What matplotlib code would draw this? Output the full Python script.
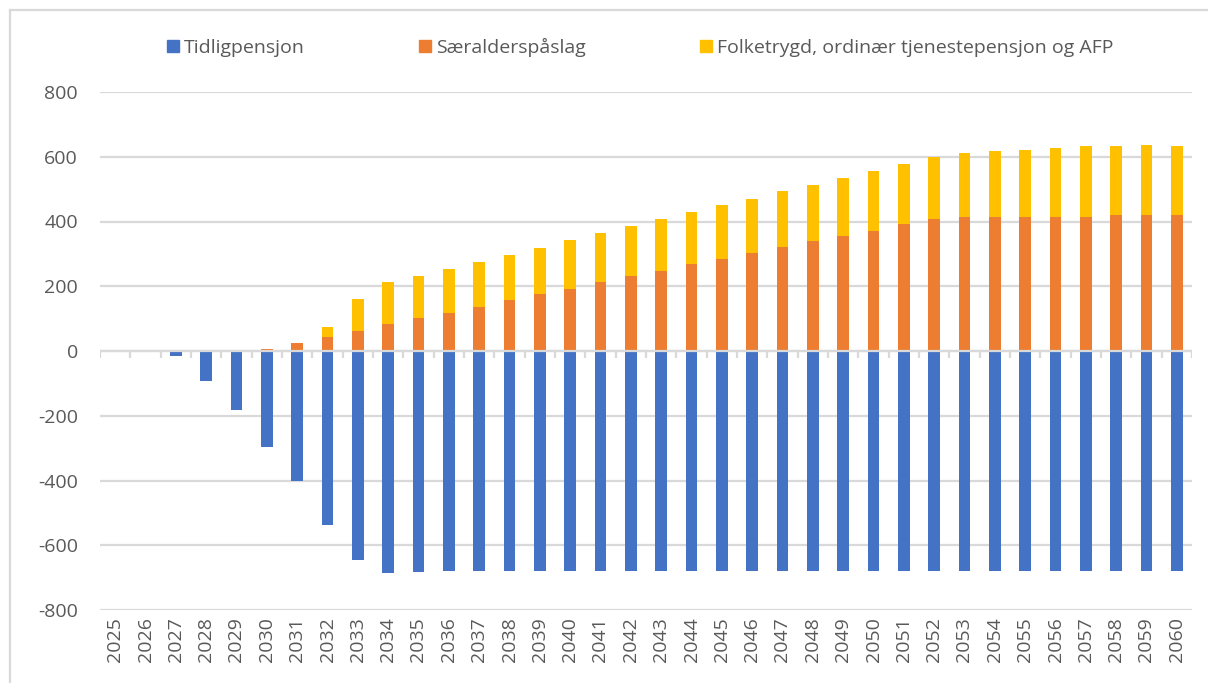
import matplotlib.pyplot as plt
from matplotlib.lines import Line2D
import numpy as np

plt.rcParams['font.family'] = ['Open Sans', 'DejaVu Sans']
plt.rcParams['axes.unicode_minus'] = False

# Data
years = list(range(2025, 2061))
tidligpensjon = [0, 0, -15, -93, -183, -295, -402, -536, -647, -687,
                 -684, -680, -680, -680, -680, -680, -680, -680, -680, -680,
                 -680, -680, -680, -680, -680, -680, -680, -680, -680, -680,
                 -680, -680, -680, -680, -680, -680]
saeralderspaslag = [0, 0, 0, 0, 0, 5, 26, 42, 62, 82,
                    102, 117, 137, 157, 177, 192, 213, 233, 248, 268,
                    284, 304, 320, 340, 355, 372, 391, 407, 414, 414,
                    414, 414, 414, 419, 419, 419]
total_top = [0, 0, 0, 0, 0, 5, 26, 73, 161, 212,
             233, 252, 276, 296, 319, 343, 363, 387, 407, 430,
             450, 470, 493, 514, 533, 557, 577, 600, 613, 617,
             621, 628, 632, 632, 636, 632]
folketrygd = [t - s for t, s in zip(total_top, saeralderspaslag)]

labels = ['Tidligpensjon', 'Særalderspåslag',
          'Folketrygd, ordinær tjenestepensjon og AFP']
colors = ['#4472C4', '#ED7D31', '#FFC000']

W, H = 1208, 683
fig = plt.figure(figsize=(W / 100, H / 100), dpi=100)
ax = fig.add_axes([100 / W, 1 - 610 / H, 1092 / W, 518 / H])

x = np.arange(len(years))
bw = 0.39
ax.bar(x, tidligpensjon, bw, color=colors[0], zorder=3)
ax.bar(x, saeralderspaslag, bw, color=colors[1], zorder=3)
ax.bar(x, folketrygd, bw, bottom=saeralderspaslag, color=colors[2], zorder=3)

grid_c = '#d9d9d9'
ax.set_ylim(-800, 800)
ax.set_xlim(-0.5, len(years) - 0.5)
ax.set_yticks(range(-800, 801, 200))
ax.yaxis.grid(True, color=grid_c, linewidth=1.6, zorder=0)
for s in ax.spines.values():
    s.set_visible(False)
ax.tick_params(axis='y', length=0, pad=16, labelsize=14, labelcolor='#595959')

# year labels at the bottom
ax.set_xticks(x)
ax.set_xticklabels([str(y) for y in years], rotation=90, fontsize=14,
                   color='#595959')
ax.tick_params(axis='x', length=0, pad=5)

# category axis on the zero line, short ticks between categories pointing down
ax.axhline(0, color=grid_c, linewidth=1.6, zorder=4)
bounds = np.arange(-0.5, len(years), 1.0)
ax.vlines(bounds, -22, 0, color=grid_c, linewidth=1.6, zorder=4)

# legend
handles = [Line2D([], [], marker='s', linestyle='none', markersize=8,
                  markerfacecolor=c, markeredgecolor=c) for c in colors]
fig.legend(handles, labels, loc='center', bbox_to_anchor=(638 / W, 1 - 47 / H),
           ncol=3, frameon=False, fontsize=14, handletextpad=0.05,
           columnspacing=5.7, labelcolor='#595959', handlelength=1.0)

# chart area border
fig.add_artist(Line2D([10 / W, 10 / W], [0, 1 - 10 / H], color=grid_c,
                      linewidth=1.6, transform=fig.transFigure))
fig.add_artist(Line2D([10 / W, 1], [1 - 10 / H, 1 - 10 / H], color=grid_c,
                      linewidth=1.6, transform=fig.transFigure))

fig.savefig('out.png', dpi=100)
